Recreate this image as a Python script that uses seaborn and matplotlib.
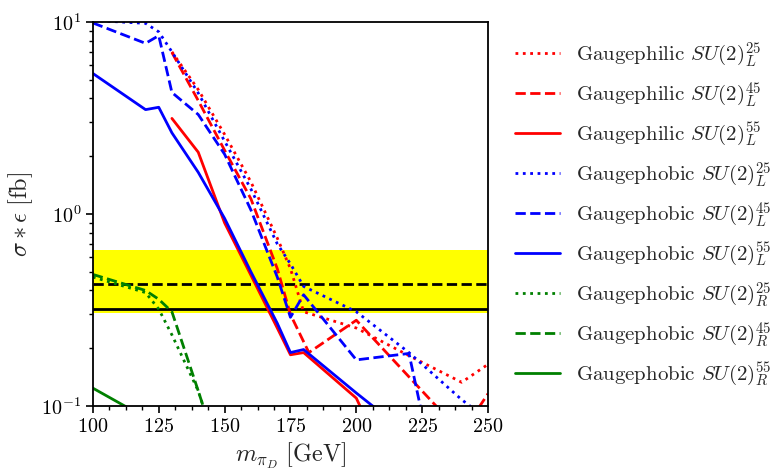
import seaborn as sns
from matplotlib import pyplot as plt
from matplotlib.ticker import MultipleLocator, LogLocator

sns.set_style('ticks')
plt.rcParams.update({
    'font.family': 'serif',
    'font.serif': ['cmr10'],
    'mathtext.fontset': 'cm',
    'axes.formatter.use_mathtext': True,
    'axes.unicode_minus': False,
    'axes.linewidth': 1.3,
    'axes.edgecolor': 'black',
    'xtick.color': 'black',
    'ytick.color': 'black',
    'xtick.direction': 'out',
    'ytick.direction': 'out',
    'xtick.major.size': 5,
    'ytick.major.size': 5,
    'xtick.minor.size': 3,
    'ytick.minor.size': 3,
    'xtick.major.width': 1.2,
    'ytick.major.width': 1.2,
    'xtick.minor.width': 1.0,
    'ytick.minor.width': 1.0,
})

# mass points [GeV] and sigma*eff [fb] per model
philic_L25_m = [130, 140, 150, 160, 170, 175, 180, 200, 220, 240, 250]
philic_L25_v = [7.0, 4.45, 2.6, 1.47, 0.75, 0.52, 0.31, 0.255, 0.183, 0.133, 0.165]

philic_L45_m = [130, 140, 150, 160, 170, 175, 182, 200, 240, 250]
philic_L45_v = [6.95, 3.9, 2.15, 1.2, 0.52, 0.30, 0.19, 0.28, 0.072, 0.116]

philic_L55_m = [130, 140, 150, 160, 170, 175, 180, 200, 210]
philic_L55_v = [3.15, 2.1, 0.9, 0.48, 0.255, 0.185, 0.19, 0.11, 0.056]

phobic_L25_m = [100, 120, 125, 130, 140, 150, 160, 170, 175, 180, 200, 220, 240, 250]
phobic_L25_v = [10.2, 9.85, 8.9, 7.0, 4.27, 2.4, 1.35, 0.7, 0.55, 0.42, 0.31, 0.19, 0.108, 0.085]

phobic_L45_m = [100, 120, 125, 130, 140, 150, 160, 170, 175, 180, 200, 220, 225]
phobic_L45_v = [9.9, 7.75, 8.5, 4.3, 3.3, 2.05, 1.05, 0.47, 0.29, 0.38, 0.174, 0.188, 0.09]

phobic_L55_m = [100, 120, 125, 130, 140, 150, 160, 170, 175, 180, 200, 210]
phobic_L55_v = [5.4, 3.5, 3.6, 2.65, 1.65, 0.95, 0.5, 0.27, 0.19, 0.197, 0.117, 0.091]

phobic_R25_m = [100, 120, 125, 130, 140, 150]
phobic_R25_v = [0.47, 0.39, 0.32, 0.235, 0.12, 0.045]

phobic_R45_m = [100, 120, 125, 130, 140, 150]
phobic_R45_v = [0.485, 0.40, 0.36, 0.31, 0.12, 0.045]

phobic_R55_m = [100, 120]
phobic_R55_v = [0.124, 0.087]

# limits [fb]
band_lo, band_hi = 0.306, 0.649
expected_limit = 0.431
observed_limit = 0.32

series = [
    (philic_L25_m, philic_L25_v, 'red', ':', r'Gaugephilic $SU(2)_L^{25}$'),
    (philic_L45_m, philic_L45_v, 'red', '--', r'Gaugephilic $SU(2)_L^{45}$'),
    (philic_L55_m, philic_L55_v, 'red', '-', r'Gaugephilic $SU(2)_L^{55}$'),
    (phobic_L25_m, phobic_L25_v, 'blue', ':', r'Gaugephobic $SU(2)_L^{25}$'),
    (phobic_L45_m, phobic_L45_v, 'blue', '--', r'Gaugephobic $SU(2)_L^{45}$'),
    (phobic_L55_m, phobic_L55_v, 'blue', '-', r'Gaugephobic $SU(2)_L^{55}$'),
    (phobic_R25_m, phobic_R25_v, 'green', ':', r'Gaugephobic $SU(2)_R^{25}$'),
    (phobic_R45_m, phobic_R45_v, 'green', '--', r'Gaugephobic $SU(2)_R^{45}$'),
    (phobic_R55_m, phobic_R55_v, 'green', '-', r'Gaugephobic $SU(2)_R^{55}$'),
]

fig, ax = plt.subplots(figsize=(7.74, 4.70), dpi=100)
fig.subplots_adjust(left=0.120, right=0.6305, top=0.953, bottom=0.136)

ax.set_yscale('log')
ax.axhspan(band_lo, band_hi, color='yellow', lw=0, zorder=0)
ax.axhline(expected_limit, color='black', ls='--', lw=2, zorder=1)
ax.axhline(observed_limit, color='black', ls='-', lw=2, zorder=1)

for m, v, c, ls, lab in series:
    sns.lineplot(x=m, y=v, ax=ax, color=c, linestyle=ls, lw=2, label=lab, zorder=2)

ax.set_xlim(100, 250)
ax.set_ylim(0.1, 10)
ax.xaxis.set_major_locator(MultipleLocator(25))
ax.xaxis.set_minor_locator(MultipleLocator(6.25))
ax.yaxis.set_major_locator(LogLocator(base=10))
ax.tick_params(labelsize=14.5)

ax.set_xlabel(r'$m_{\pi_D}\ [\mathrm{GeV}]$', fontsize=17.5)
ax.set_ylabel(r'$\sigma * \epsilon\ [\mathrm{fb}]$', fontsize=17.5)

ax.legend(loc='center left', bbox_to_anchor=(1.068, 0.5), frameon=False,
          fontsize=15, borderpad=0, borderaxespad=0, handlelength=2.15,
          handletextpad=0.78, labelspacing=0.55)

fig.savefig('out.png', dpi=100)
